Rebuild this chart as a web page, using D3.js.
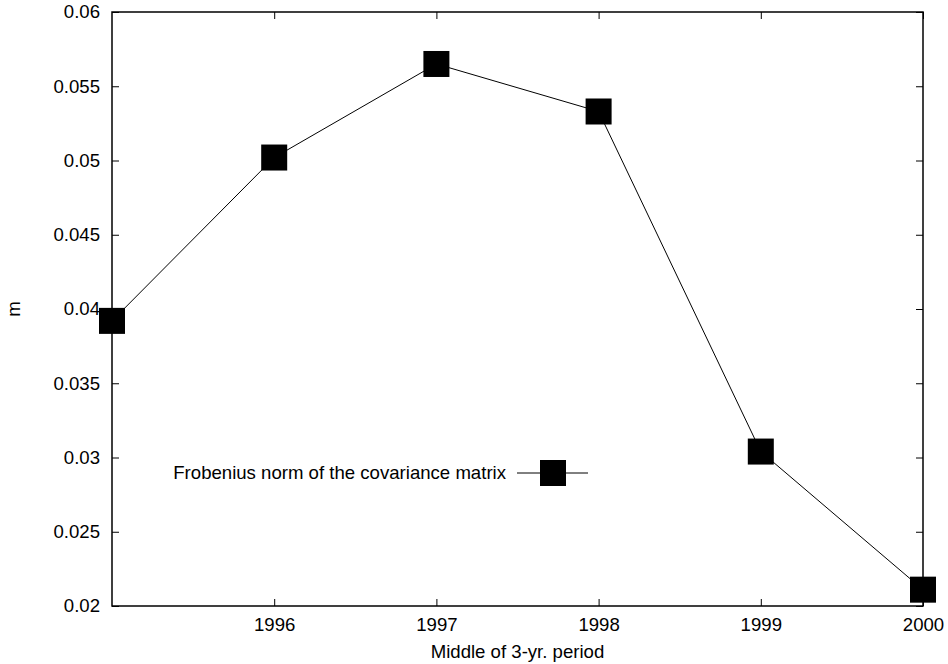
<!DOCTYPE html>
<html>
<head>
<meta charset="utf-8">
<script src="https://cdn.jsdelivr.net/npm/d3@7"></script>
<style>
  html, body { margin: 0; padding: 0; background: #fff; }
  svg { display: block; font-family: "Liberation Sans", Arial, Helvetica, sans-serif; }
</style>
</head>
<body>
<svg id="chart" width="948" height="664"></svg>
<script>
// Middle year of each 3-year window and the Frobenius norm measured there
const years = [1995, 1996, 1997, 1998, 1999, 2000];
const frobNorm = [0.0392, 0.0502, 0.0565, 0.0533, 0.0304, 0.0211];
const xTicks = [1996, 1997, 1998, 1999, 2000];
const yTicks = [0.02, 0.025, 0.03, 0.035, 0.04, 0.045, 0.05, 0.055, 0.06];
const seriesName = "Frobenius norm of the covariance matrix";
const xLabel = "Middle of 3-yr. period";
const yLabel = "m";

const W = 948, H = 664;
const margin = { left: 112, right: 25, top: 12, bottom: 58 };
const fontSize = 18.6;
const svg = d3.select("#chart");

const x = d3.scaleLinear().domain([1995, 2000]).range([margin.left, W - margin.right]);
const y = d3.scaleLinear().domain([0.02, 0.06]).range([H - margin.bottom, margin.top]);

const tickLen = 7;
const fmtY = d3.format("");

// Bottom axis: inward ticks with labels below
const axBottom = svg.append("g")
  .attr("transform", `translate(0,${y(0.02)})`)
  .call(d3.axisBottom(x).tickValues(xTicks).tickSize(-tickLen).tickPadding(12).tickFormat(d3.format("d")));
// Top axis: mirrored ticks only
const axTop = svg.append("g")
  .attr("transform", `translate(0,${y(0.06)})`)
  .call(d3.axisTop(x).tickValues(xTicks).tickSize(-tickLen).tickFormat(""));
// Left axis: inward ticks with labels
const axLeft = svg.append("g")
  .attr("transform", `translate(${x(1995)},0)`)
  .call(d3.axisLeft(y).tickValues(yTicks).tickSize(-tickLen).tickPadding(12).tickFormat(fmtY));
// Right axis: mirrored ticks only
const axRight = svg.append("g")
  .attr("transform", `translate(${x(2000)},0)`)
  .call(d3.axisRight(y).tickValues(yTicks).tickSize(-tickLen).tickFormat(""));

[axBottom, axTop, axLeft, axRight].forEach(g => {
  g.select(".domain").remove();
  g.selectAll(".tick line").attr("stroke", "#000").attr("stroke-width", 1);
  g.selectAll(".tick text").attr("fill", "#000").attr("font-size", fontSize)
    .attr("font-family", "Liberation Sans, Arial, sans-serif");
});

// Plot frame
svg.append("rect")
  .attr("x", x(1995)).attr("y", y(0.06))
  .attr("width", x(2000) - x(1995)).attr("height", y(0.02) - y(0.06))
  .attr("fill", "none").attr("stroke", "#000").attr("stroke-width", 1.5);

// Series line
const pts = years.map((yr, i) => [yr, frobNorm[i]]);
svg.append("path")
  .datum(pts)
  .attr("fill", "none").attr("stroke", "#000").attr("stroke-width", 1)
  .attr("d", d3.line().x(d => x(d[0])).y(d => y(d[1])));

// Square markers
const ms = 26;
svg.selectAll("rect.pt").data(pts).enter().append("rect")
  .attr("class", "pt")
  .attr("x", d => x(d[0]) - ms / 2).attr("y", d => y(d[1]) - ms / 2)
  .attr("width", ms).attr("height", ms).attr("fill", "#000");

// Legend
const lg = svg.append("g");
lg.append("text").attr("x", 506).attr("y", 479).attr("text-anchor", "end")
  .attr("font-size", fontSize).attr("fill", "#000").text(seriesName);
lg.append("line").attr("x1", 517).attr("x2", 588).attr("y1", 473).attr("y2", 473)
  .attr("stroke", "#000").attr("stroke-width", 1);
lg.append("rect").attr("x", 553 - ms / 2).attr("y", 473 - ms / 2)
  .attr("width", ms).attr("height", ms).attr("fill", "#000");

// Axis titles
svg.append("text").attr("x", (x(1995) + x(2000)) / 2).attr("y", 658)
  .attr("text-anchor", "middle").attr("font-size", fontSize).attr("fill", "#000").text(xLabel);
svg.append("text").attr("transform", `translate(20,309) rotate(-90)`)
  .attr("text-anchor", "middle").attr("font-size", fontSize).attr("fill", "#000").text(yLabel);
</script>
</body>
</html>
